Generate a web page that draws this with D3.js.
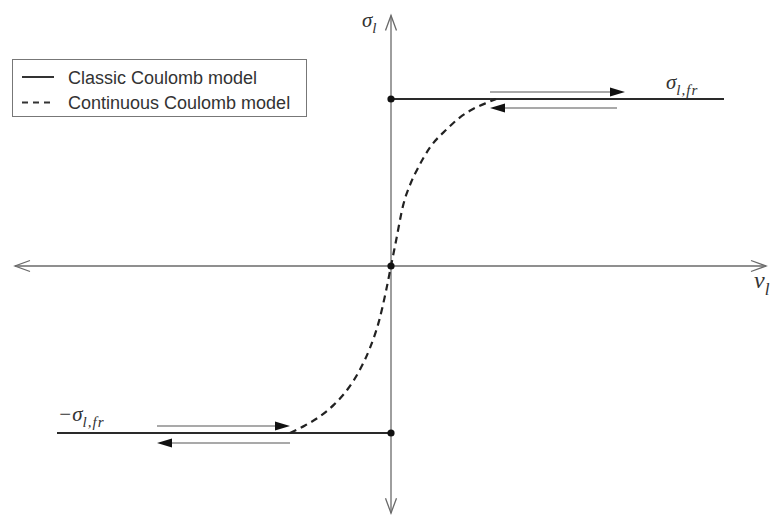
<!DOCTYPE html>
<html>
<head>
<meta charset="utf-8">
<script src="https://cdn.jsdelivr.net/npm/d3@7"></script>
<style>
  html, body { margin: 0; padding: 0; background: #fff; }
  svg { display: block; }
  .math { font-family: "Liberation Serif", "DejaVu Serif", serif; font-style: italic; fill: #333; }
  .legend text { font-family: "Liberation Sans", Arial, sans-serif; font-size: 18px; fill: #333; }
</style>
</head>
<body>
<svg id="chart" width="776" height="516"></svg>
<script>
// Friction stress vs. slip velocity, normalised so that sigma_fr = 1.
const sigmaFr = 1;

// Axis extents (velocity v, stress sigma)
const vAxis = [-3.76, 3.75];
const sigmaAxis = [-1.48, 1.50];

// Classic Coulomb model: sign(v) * sigma_fr
const classicPos = [[0, sigmaFr], [3.33, sigmaFr]];
const classicNeg = [[-3.34, -sigmaFr], [0, -sigmaFr]];

// Continuous Coulomb model (smooth transition through the origin)
const continuous = [
  [-1.01, -1.0], [-0.86, -0.955], [-0.71, -0.9], [-0.57, -0.83], [-0.43, -0.735],
  [-0.31, -0.62], [-0.21, -0.49], [-0.12, -0.33], [-0.05, -0.15], [0, 0],
  [0.05, 0.15], [0.12, 0.36], [0.20, 0.50], [0.26, 0.575], [0.39, 0.71],
  [0.56, 0.82], [0.69, 0.89], [0.82, 0.94], [0.99, 0.985], [1.05, 1.0]
];

// Marked points on the sigma axis
const markers = [[0, sigmaFr], [0, 0], [0, -sigmaFr]];

// Direction arrows along the saturated branches: [vStart, vEnd, sigma]
const directionArrows = [
  [0.99, 2.34, 1.042],
  [2.26, 0.99, 0.946],
  [-2.34, -1.01, -0.958],
  [-1.01, -2.34, -1.06]
];

const legendItems = [
  { label: "Classic Coulomb model", dash: null },
  { label: "Continuous Coulomb model", dash: "6,5" }
];

const svg = d3.select("#chart");
const x = d3.scaleLinear().domain([0, 1]).range([391, 491]);
const y = d3.scaleLinear().domain([0, 1]).range([266, 99]);

const line = d3.line().x(d => x(d[0])).y(d => y(d[1]));

// Axes with open chevron heads
const axisColor = "#6a6a6a";
function chevron(tipX, tipY, dx, dy) {
  // dx, dy: unit direction of the arrow
  const len = 15, half = 5.5;
  const bx = tipX - dx * len, by = tipY - dy * len;
  const px = -dy * half, py = dx * half;
  return `M${bx + px},${by + py}L${tipX},${tipY}L${bx - px},${by - py}`;
}
const gAxes = svg.append("g").attr("fill", "none").attr("stroke", axisColor).attr("stroke-width", 1.3);
gAxes.append("line").attr("x1", x(vAxis[0])).attr("x2", x(vAxis[1])).attr("y1", y(0)).attr("y2", y(0));
gAxes.append("line").attr("x1", x(0)).attr("x2", x(0)).attr("y1", y(sigmaAxis[0])).attr("y2", y(sigmaAxis[1]));
gAxes.append("path").attr("d", chevron(x(vAxis[1]), y(0), 1, 0));
gAxes.append("path").attr("d", chevron(x(vAxis[0]), y(0), -1, 0));
gAxes.append("path").attr("d", chevron(x(0), y(sigmaAxis[1]), 0, -1));
gAxes.append("path").attr("d", chevron(x(0), y(sigmaAxis[0]), 0, 1));

// Classic model
svg.append("path").attr("d", line(classicPos)).attr("fill", "none").attr("stroke", "#2a2a2a").attr("stroke-width", 2);
svg.append("path").attr("d", line(classicNeg)).attr("fill", "none").attr("stroke", "#2a2a2a").attr("stroke-width", 2);

// Continuous model
svg.append("path")
  .attr("d", d3.line().x(d => x(d[0])).y(d => y(d[1])).curve(d3.curveMonotoneX)(continuous))
  .attr("fill", "none").attr("stroke", "#222").attr("stroke-width", 2.2)
  .attr("stroke-dasharray", "7,5");

// Direction arrows
const gArr = svg.append("g");
directionArrows.forEach(([v0, v1, s]) => {
  const x0 = x(v0), x1 = x(v1), yy = y(s);
  const dir = Math.sign(x1 - x0);
  const headLen = 15, half = 4.5;
  gArr.append("line").attr("x1", x0).attr("x2", x1 - dir * headLen * 0.8).attr("y1", yy).attr("y2", yy)
    .attr("stroke", "#555").attr("stroke-width", 1.1);
  gArr.append("path")
    .attr("d", `M${x1},${yy}L${x1 - dir * headLen},${yy - half}L${x1 - dir * headLen},${yy + half}Z`)
    .attr("fill", "#111");
});

// Marker dots
svg.append("g").selectAll("circle").data(markers).join("circle")
  .attr("cx", d => x(d[0])).attr("cy", d => y(d[1])).attr("r", 3.6).attr("fill", "#111");

// Math labels
function mathLabel(px, py, main, sub, size) {
  const t = svg.append("text").attr("class", "math").attr("x", px).attr("y", py).attr("font-size", size);
  t.append("tspan").text(main);
  t.append("tspan").attr("dy", size * 0.28).attr("font-size", size * 0.72)
    .attr("letter-spacing", 1).text(sub);
}
mathLabel(362, 27, "σ", "l", 21);
mathLabel(666, 89, "σ", "l,fr", 21);
mathLabel(58, 421, "−σ", "l,fr", 21);
mathLabel(754, 288, "v", "l", 24);

// Legend
const gLeg = svg.append("g").attr("class", "legend");
gLeg.append("rect").attr("x", 12.5).attr("y", 59.5).attr("width", 294).attr("height", 57)
  .attr("fill", "#fff").attr("stroke", "#777").attr("stroke-width", 1);
legendItems.forEach((it, i) => {
  const cy = 77 + i * 25.5;
  gLeg.append("line").attr("x1", 22).attr("x2", 54).attr("y1", cy).attr("y2", cy)
    .attr("stroke", "#333").attr("stroke-width", 2)
    .attr("stroke-dasharray", it.dash);
  gLeg.append("text").attr("x", 68).attr("y", cy + 6.5).text(it.label);
});
</script>
</body>
</html>
